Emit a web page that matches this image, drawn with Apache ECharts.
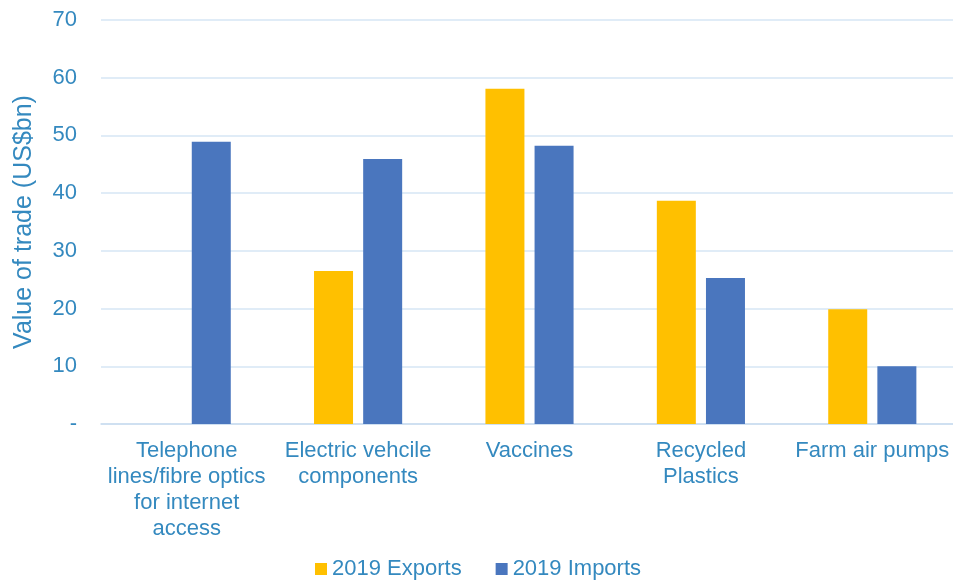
<!DOCTYPE html>
<html><head><meta charset="utf-8">
<script src="https://cdn.jsdelivr.net/npm/echarts@6/dist/echarts.min.js"></script>
<style>html,body{margin:0;padding:0;background:#fff}#c{width:953px;height:587px}</style>
</head><body><div id="c"></div>
<script>
const categories = ["Telephone\nlines/fibre optics\nfor internet\naccess", "Electric vehcile\ncomponents", "Vaccines", "Recycled\nPlastics", "Farm air pumps"];
const exports2019 = [null, 26.5, 58.1, 38.7, 19.9];
const imports2019 = [48.9, 45.9, 48.2, 25.3, 10.0];
const yTicks = { min: 0, max: 70, interval: 10 };

const txt = '#3489BF';
const ff = 'Liberation Sans, Arial, sans-serif';
const chart = echarts.init(document.getElementById('c'), null, { renderer: 'canvas' });
chart.setOption({
  animation: false,
  textStyle: { fontFamily: ff },
  grid: { left: 101, right: -5, top: 20, bottom: 163, containLabel: false, outerBoundsMode: 'none' },
  legend: {
    bottom: 2, left: 310, itemWidth: 12, itemHeight: 12, itemGap: 34,
    icon: 'rect',
    textStyle: { color: txt, fontSize: 22, fontFamily: ff },
    data: ['2019 Exports', '2019 Imports']
  },
  xAxis: {
    type: 'category', data: categories,
    axisLine: { lineStyle: { color: '#c9dcef', width: 1.5 } },
    axisTick: { show: false },
    axisLabel: { color: txt, fontSize: 22, lineHeight: 26, margin: 14, interval: 0 }
  },
  yAxis: {
    type: 'value', min: yTicks.min, max: yTicks.max, interval: yTicks.interval,
    name: 'Value of trade (US$bn)', nameLocation: 'middle', nameGap: 64,
    nameTextStyle: { color: txt, fontSize: 25 },
    axisLine: { show: false }, axisTick: { show: false },
    axisLabel: { color: txt, fontSize: 22, margin: 24, formatter: v => v === 0 ? '-' : v },
    splitLine: { lineStyle: { color: '#d6e6f4', width: 1.5 } }
  },
  series: [
    { name: '2019 Exports', type: 'bar', data: exports2019, barWidth: 39, barGap: '26%', itemStyle: { color: '#FFC000' } },
    { name: '2019 Imports', type: 'bar', data: imports2019, barWidth: 39, barGap: '26%', itemStyle: { color: '#4A76BE' } }
  ]
});
</script></body></html>
